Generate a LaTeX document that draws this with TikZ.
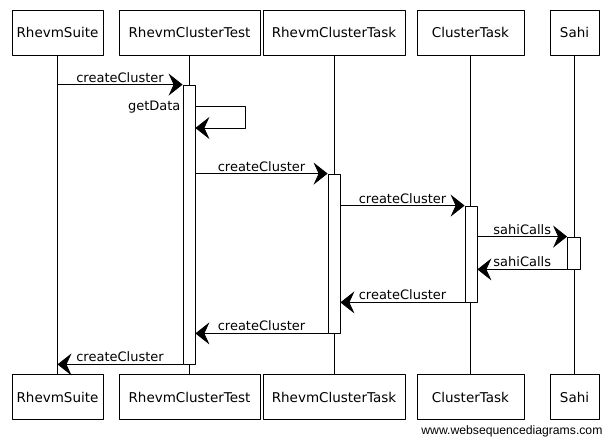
\documentclass[tikz,border=0pt]{standalone}
\usepackage{fontspec}
\setmainfont{DejaVu Sans}
\newfontfamily\sitefont{Liberation Sans}
\usetikzlibrary{arrows.meta}

\tikzset{
	actor/.style={draw, line width=0.8pt, fill=white, minimum height=45pt, inner sep=0pt},
	act/.style={draw, line width=0.8pt, fill=white, minimum width=12pt, inner sep=0pt},
	life/.style={line width=0.8pt},
	msg/.style={line width=0.8pt, -{Stealth[length=14pt,width=22pt,inset=5pt]}},
	lbl/.style={font=\fontsize{13}{15}\selectfont, inner sep=2pt}
}

\begin{document}
\begin{tikzpicture}[x=1pt,y=-1pt,font=\fontsize{13.5}{16}\selectfont, line join=round, line cap=round]
	\useasboundingbox (0,0) rectangle (608,439);
	% participants, top row
	\node[actor,minimum width=91pt] (suiteT) at (57.5,32.5) {RhevmSuite};
	\node[actor,minimum width=141pt] (testT) at (189.5,32.5) {RhevmClusterTest};
	\node[actor,minimum width=142pt] (taskT) at (334,32.5) {RhevmClusterTask};
	\node[actor,minimum width=107pt] (ctT) at (470.5,32.5) {ClusterTask};
	\node[actor,minimum width=49pt] (sahiT) at (574.5,32.5) {Sahi};
	% participants, bottom row
	\node[actor,minimum width=91pt] (suiteB) at (57.5,397) {RhevmSuite};
	\node[actor,minimum width=141pt] (testB) at (189.5,397) {RhevmClusterTest};
	\node[actor,minimum width=142pt] (taskB) at (334,397) {RhevmClusterTask};
	\node[actor,minimum width=107pt] (ctB) at (470.5,397) {ClusterTask};
	\node[actor,minimum width=49pt] (sahiB) at (574.5,397) {Sahi};
	% lifelines
	\foreach \p in {suite,test,task,ct,sahi}{
		\draw[life] (\p T) -- (\p B);}
	% activations
	\node[act,minimum height=279pt] (testAct) at (189,224.5) {};
	\node[act,minimum height=159pt] (taskAct) at (334,253.5) {};
	\node[act,minimum height=96pt] (ctAct) at (471,254) {};
	\node[act,minimum height=32pt,minimum width=13pt] (sahiAct) at (574,253) {};
	% messages
	\draw[msg] (suiteT |- testAct.north) -- (testAct.north west) node[lbl,midway,above]{createCluster};
	\draw[msg] (testAct.east |- 0,106) -- (245,106) -- (245,128) -- (testAct.east |- 0,128);
	\node[lbl,left] (getData) at (testAct.west |- 0,107) {getData};
	\draw[msg] (testAct.east |- taskAct.north) -- (taskAct.north west) node[lbl,midway,above]{createCluster};
	\draw[msg] (taskAct.east |- ctAct.north) -- (ctAct.north west) node[lbl,midway,above]{createCluster};
	\draw[msg] (ctAct.east |- sahiAct.north) -- (sahiAct.north west) node[lbl,midway,above]{sahiCalls};
	\draw[msg] (sahiAct.south west) -- (ctAct.east |- sahiAct.south) node[lbl,midway,above]{sahiCalls};
	\draw[msg] (ctAct.south west) -- (taskAct.east |- ctAct.south) node[lbl,midway,above]{createCluster};
	\draw[msg] (taskAct.south west) -- (testAct.east |- taskAct.south) node[lbl,midway,above]{createCluster};
	\draw[msg] (testAct.south west) -- (suiteT |- testAct.south) node[lbl,midway,above]{createCluster};
	% footer
	\node[anchor=east,font=\sitefont\fontsize{12.2}{14}\selectfont] (site) at (606,431) {www.websequencediagrams.com};
\end{tikzpicture}
\end{document}
